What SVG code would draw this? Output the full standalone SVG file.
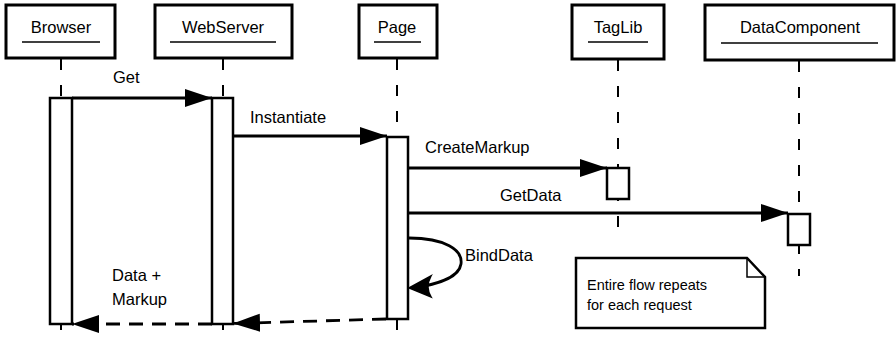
<svg xmlns="http://www.w3.org/2000/svg" width="896" height="337" viewBox="0 0 896 337">
<style>
.head{fill:#fff;stroke:#000;stroke-width:3}
.ul{stroke:#000;stroke-width:1.5}
.life{stroke:#000;stroke-width:2;stroke-dasharray:11 15;fill:none}
.act{fill:#fff;stroke:#000;stroke-width:2.5}
.lbl{font-family:"Liberation Sans",Arial,Helvetica,sans-serif;font-size:16.5px;fill:#000}
.ctr{text-anchor:middle}
.msg{stroke:#000;stroke-width:2.8;fill:none}
.ret{stroke:#000;stroke-width:2.8;fill:none;stroke-dasharray:14 9}
.note{fill:#fff;stroke:#000;stroke-width:2.5;stroke-linejoin:miter}
.notetxt{font-family:"Liberation Sans",Arial,Helvetica,sans-serif;font-size:14.5px;fill:#000}
</style>
<defs>
<marker id="tri" markerUnits="userSpaceOnUse" markerWidth="28" markerHeight="20" refX="27" refY="9" orient="auto">
<path d="M0,0 L27,9 L0,18 Z" fill="#000"/>
</marker>
</defs>
<rect width="896" height="337" fill="#fff"/>

<g id="Browser">
<line class="life" x1="61" y1="59" x2="61" y2="337"/>
<rect class="head" x="6" y="5" width="109" height="53"/>
<line class="ul" x1="22" y1="42" x2="100" y2="42"/>
<text class="lbl ctr" x="61" y="33">Browser</text>
<rect class="act" x="50" y="98" width="22" height="226"/>
</g>

<g id="WebServer">
<line class="life" x1="223" y1="59" x2="223" y2="337"/>
<rect class="head" x="155" y="5" width="137" height="53"/>
<line class="ul" x1="170" y1="42" x2="276" y2="42"/>
<text class="lbl ctr" x="223" y="33">WebServer</text>
<rect class="act" x="212" y="98" width="21" height="226"/>
</g>

<g id="Page">
<line class="life" x1="397" y1="59" x2="397" y2="330"/>
<rect class="head" x="359" y="5" width="78" height="53"/>
<line class="ul" x1="374" y1="42" x2="421" y2="42"/>
<text class="lbl ctr" x="397" y="33">Page</text>
<rect class="act" x="387" y="137" width="21" height="182"/>
</g>

<g id="TagLib">
<line class="life" x1="618" y1="60" x2="618" y2="229"/>
<rect class="head" x="572" y="5" width="92" height="54"/>
<line class="ul" x1="588" y1="42" x2="648" y2="42"/>
<text class="lbl ctr" x="618" y="33">TagLib</text>
<rect class="act" x="607" y="168" width="22" height="31"/>
</g>

<g id="DataComponent">
<line class="life" x1="799" y1="61" x2="799" y2="276"/>
<rect class="head" x="705" y="5" width="189" height="55"/>
<line class="ul" x1="721" y1="43" x2="878" y2="43"/>
<text class="lbl ctr" x="800" y="33">DataComponent</text>
<rect class="act" x="788" y="214" width="22" height="31"/>
</g>

<g id="note">
<path class="note" d="M576,258 L747,258 L765,277 L765,328 L576,328 Z"/>
<path d="M747,258 L747,277 L765,277" fill="none" stroke="#000" stroke-width="1.5"/>
<text class="notetxt" x="587" y="290">Entire flow repeats</text>
<text class="notetxt" x="587" y="310">for each request</text>
</g>

<g id="connectors">
<line class="msg" x1="72" y1="98" x2="212" y2="98" marker-end="url(#tri)"/>
<text class="lbl" x="113" y="83">Get</text>
<line class="msg" x1="233" y1="136" x2="387" y2="136" marker-end="url(#tri)"/>
<text class="lbl" x="250" y="123">Instantiate</text>
<line class="msg" x1="408" y1="168" x2="607" y2="168" marker-end="url(#tri)"/>
<text class="lbl" x="425" y="153">CreateMarkup</text>
<line class="msg" x1="408" y1="213" x2="788" y2="213" marker-end="url(#tri)"/>
<text class="lbl" x="500" y="201">GetData</text>
<path class="msg" d="M409,238 C445,238 463,250 461,264 C459,278 435,285 412,288"/>
<path d="M409,288 L431,276 Q425,287 431,297 Z" fill="#000" stroke="#000" stroke-width="1.5" stroke-linejoin="miter"/>
<text class="lbl" x="465" y="261">BindData</text>
<line class="ret" x1="386" y1="319" x2="233" y2="323.5" marker-end="url(#tri)"/>
<line class="ret" x1="212" y1="324" x2="72" y2="324" marker-end="url(#tri)"/>
<text class="lbl" x="112" y="281">Data +</text>
<text class="lbl" x="112" y="305">Markup</text>
</g>
</svg>
